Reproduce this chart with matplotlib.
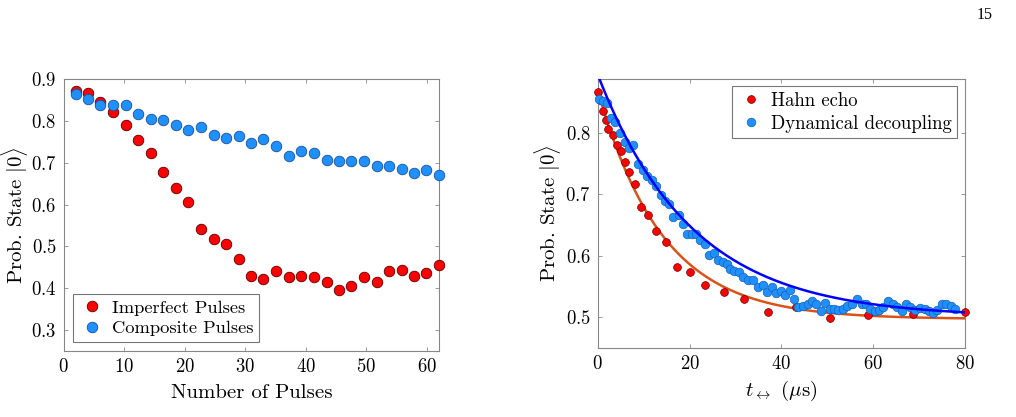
import numpy as np
import matplotlib
matplotlib.use("Agg")
import matplotlib.pyplot as plt

plt.rcParams['font.family'] = 'serif'
plt.rcParams['font.serif'] = ['cmr10']
plt.rcParams['mathtext.fontset'] = 'cm'
plt.rcParams['axes.formatter.use_mathtext'] = True

# left panel: probability vs number of pulses
n_pulses = [2.0, 4.1, 6.1, 8.2, 10.3, 12.3, 14.4, 16.5, 18.6, 20.6,
            22.7, 24.8, 26.8, 28.9, 31.0, 33.0, 35.1, 37.2, 39.2, 41.3,
            43.4, 45.4, 47.5, 49.6, 51.7, 53.7, 55.8, 57.9, 59.9, 62.0]
imperfect = [0.872, 0.866, 0.845, 0.822, 0.789, 0.754, 0.722, 0.678, 0.639, 0.606,
             0.542, 0.518, 0.505, 0.471, 0.429, 0.423, 0.442, 0.426, 0.429, 0.427,
             0.416, 0.396, 0.405, 0.427, 0.415, 0.440, 0.444, 0.430, 0.437, 0.455]
composite = [0.864, 0.852, 0.839, 0.839, 0.837, 0.816, 0.804, 0.802, 0.791, 0.778,
             0.786, 0.765, 0.760, 0.764, 0.748, 0.756, 0.741, 0.717, 0.729, 0.723,
             0.707, 0.703, 0.705, 0.705, 0.693, 0.693, 0.686, 0.675, 0.683, 0.671]

# right panel: Hahn echo vs dynamical decoupling
t_hahn = [0.1, 0.6, 1.2, 1.7, 2.3, 3.3, 4.1, 5.1, 5.9, 6.9, 8.1, 9.4, 10.9,
          12.7, 14.9, 17.3, 20.1, 23.4, 27.4, 31.9, 37.2, 43.2, 50.5, 58.9, 68.6, 80.0]
p_hahn = [0.866, 0.853, 0.836, 0.821, 0.807, 0.796, 0.781, 0.770, 0.752, 0.737,
          0.717, 0.679, 0.667, 0.640, 0.622, 0.582, 0.573, 0.552, 0.541, 0.529,
          0.508, 0.517, 0.499, 0.503, 0.506, 0.509]

t_dd = [0.3, 1.1, 2.0, 2.8, 3.8, 4.9, 5.9, 6.8, 7.7, 8.8, 9.8, 10.8, 11.8, 12.7,
        13.7, 14.7, 15.6, 16.5, 17.6, 18.5, 19.4, 20.5, 21.4, 22.3, 23.4, 24.3,
        25.3, 26.3, 27.2, 28.1, 28.8, 29.7, 30.8, 31.7, 32.8, 33.9, 34.9, 35.9,
        36.9, 37.9, 38.8, 39.9, 40.8, 41.9, 42.8, 43.7, 44.8, 45.7, 46.6, 47.6,
        48.6, 49.5, 50.5, 51.5, 52.4, 53.4, 54.4, 55.3, 56.4, 57.5, 58.5, 59.4,
        60.3, 61.2, 62.2, 63.2, 64.3, 65.1, 66.2, 67.2, 68.0, 69.1, 70.2, 71.2,
        72.1, 73.0, 74.0, 74.9, 75.9, 76.9, 77.8]
p_dd = [0.855, 0.852, 0.849, 0.824, 0.817, 0.800, 0.785, 0.775, 0.780, 0.750,
        0.740, 0.730, 0.723, 0.713, 0.699, 0.689, 0.684, 0.663, 0.666, 0.652,
        0.636, 0.636, 0.636, 0.626, 0.619, 0.601, 0.604, 0.594, 0.590, 0.587,
        0.579, 0.576, 0.573, 0.566, 0.561, 0.560, 0.550, 0.552, 0.541, 0.550,
        0.539, 0.542, 0.537, 0.544, 0.530, 0.517, 0.519, 0.521, 0.527, 0.522,
        0.510, 0.524, 0.514, 0.514, 0.512, 0.514, 0.519, 0.521, 0.530, 0.522,
        0.522, 0.514, 0.511, 0.512, 0.516, 0.527, 0.522, 0.517, 0.511, 0.522,
        0.517, 0.512, 0.515, 0.514, 0.510, 0.507, 0.512, 0.522, 0.522, 0.519,
        0.514]

# exponential fits: offset, amplitude, decay time (us)
fit_hahn = (0.497, 0.373, 14.0)
fit_dd = (0.500, 0.395, 20.5)

red = '#ff0000'
blue = '#1e90ff'

fig = plt.figure(figsize=(10.16, 4.17), dpi=100)

ax1 = fig.add_axes([0.0625, 0.1583, 0.3698, 0.6523])
ax1.plot(n_pulses, imperfect, 'o', ms=7.6, mfc=red, mec='#550000', mew=0.6,
         label='Imperfect Pulses', clip_on=False, zorder=3)
ax1.plot(n_pulses, composite, 'o', ms=7.6, mfc=blue, mec='#1a4f99', mew=0.6,
         label='Composite Pulses', clip_on=False, zorder=3)
ax1.set_xlim(0, 62)
ax1.set_ylim(0.25, 0.9)
ax1.set_xticks([0, 10, 20, 30, 40, 50, 60])
ax1.set_yticks([0.3, 0.4, 0.5, 0.6, 0.7, 0.8, 0.9])
ax1.set_xlabel('Number of Pulses', fontsize=15, labelpad=6)
ax1.set_ylabel(r'Prob. State $|0\rangle$', fontsize=15)
ax1.yaxis.set_label_coords(-0.088, 0.5)
leg1 = ax1.legend(loc='lower left', fontsize=13.3, handletextpad=0.3,
                  borderaxespad=0.5, fancybox=False, edgecolor='#777777',
                  framealpha=1, handlelength=1.5, labelspacing=0.25,
                  borderpad=0.3)
leg1.get_frame().set_linewidth(0.8)

ax2 = fig.add_axes([0.5883, 0.1655, 0.3615, 0.6451])
tt = np.linspace(0, 80, 400)
ax2.plot(tt, fit_hahn[0] + fit_hahn[1] * np.exp(-tt / fit_hahn[2]),
         color='#d95319', lw=1.8, zorder=2)
ax2.plot(tt, fit_dd[0] + fit_dd[1] * np.exp(-tt / fit_dd[2]),
         color='#0000ff', lw=1.8, zorder=4)
ax2.plot(t_hahn, p_hahn, 'o', ms=5.6, mfc=red, mec='#660000', mew=0.5,
         label='Hahn echo', clip_on=False, zorder=3)
ax2.plot(t_dd, p_dd, 'o', ms=6.2, mfc=blue, mec='#1a5fb0', mew=0.5,
         label='Dynamical decoupling', clip_on=False, zorder=3)
ax2.set_xlim(0, 80)
ax2.set_ylim(0.45, 0.8878)
ax2.set_xticks([0, 20, 40, 60, 80])
ax2.set_yticks([0.5, 0.6, 0.7, 0.8])
ax2.set_xlabel(r'$t_{\leftrightarrow}$ ($\mu$s)', fontsize=15, labelpad=4)
ax2.set_ylabel(r'Prob. State $|0\rangle$', fontsize=15)
ax2.yaxis.set_label_coords(-0.095, 0.5)
leg2 = ax2.legend(loc='upper right', fontsize=13.5, handletextpad=0.3,
                  borderaxespad=0.4, fancybox=False, edgecolor='#777777',
                  framealpha=1, handlelength=1.5, labelspacing=0.25,
                  borderpad=0.3)
leg2.get_frame().set_linewidth(0.8)

for ax in (ax1, ax2):
    for s in ax.spines.values():
        s.set_color('#888888')
        s.set_linewidth(0.8)
    ax.tick_params(direction='in', top=True, right=True, length=3,
                   width=0.6, color='#888888', labelsize=13.5, pad=5)

fig.text(0.9695, 0.965, '15', fontsize=11.5, family='Liberation Serif',
         ha='center', va='center')

fig.savefig('out.png', dpi=100)
